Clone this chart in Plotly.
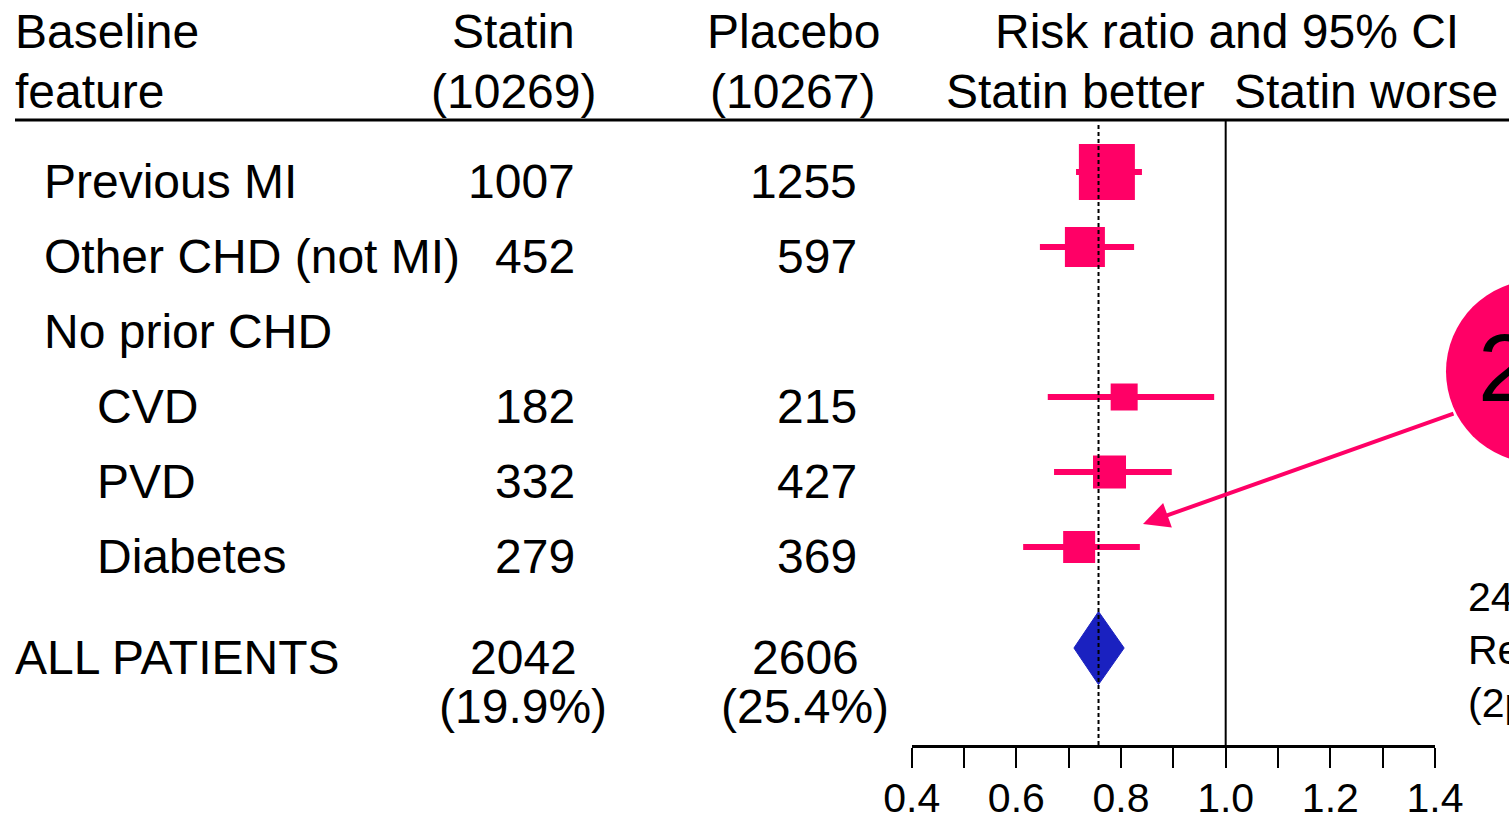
import plotly.graph_objects as go

# ---------------- data ----------------
labels = ["Previous MI", "Other CHD (not MI)", "No prior CHD", "CVD", "PVD", "Diabetes"]
indent = [0, 0, 0, 1, 1, 1]
statin_events = ["1007", "452", "", "182", "332", "279"]
placebo_events = ["1255", "597", "", "215", "427", "369"]
rr = [0.773, 0.731, None, 0.806, 0.778, 0.720]
ci_low = [0.714, 0.645, None, 0.660, 0.672, 0.613]
ci_high = [0.840, 0.825, None, 0.978, 0.897, 0.836]
box_size = [56, 40, 0, 27, 33, 32]

overall_label = "ALL PATIENTS"
overall_statin = ["2042", "(19.9%)"]
overall_placebo = ["2606", "(25.4%)"]
overall_rr = 0.757
overall_low = 0.710
overall_high = 0.806

header_cols = [["Baseline", "feature"], ["Statin", "(10269)"], ["Placebo", "(10267)"],
               ["Risk ratio and 95% CI"], ["Statin better", "Statin worse"]]
tick_vals = [0.4, 0.5, 0.6, 0.7, 0.8, 0.9, 1.0, 1.1, 1.2, 1.3, 1.4]
tick_text = ["0.4", "", "0.6", "", "0.8", "", "1.0", "", "1.2", "", "1.4"]

side_text = ["24% SE 3", "Reduction", "(2p<0.00001)"]
circle_text = "24%"

# ---------------- layout helpers ----------------
W, H = 1509, 816
PINK = "#FF0066"
BLUE = "#1A21C0"
FONT = "Liberation Sans, Arial, sans-serif"
FS = 48
TEXT_SHIFT = -9  # row text sits slightly below the marker row

def px(x):
    return x / W

def py(y):
    return 1 - y / H

rows = list(range(len(labels)))
overall_row = 6.347
overall_row2 = 7.01

fig = go.Figure()

# CI lines
ci_x, ci_y = [], []
for r, lo, hi in zip(rows, ci_low, ci_high):
    if lo is None:
        continue
    ci_x += [lo, hi, None]
    ci_y += [r, r, None]
fig.add_trace(go.Scatter(x=ci_x, y=ci_y, mode="lines",
                         line=dict(color=PINK, width=6), hoverinfo="skip"))

# boxes
bx = [v for v in rr if v is not None]
by = [r for r, v in zip(rows, rr) if v is not None]
bs = [s for s, v in zip(box_size, rr) if v is not None]
fig.add_trace(go.Scatter(x=bx, y=by, mode="markers",
                         marker=dict(symbol="square", size=bs, color=PINK, opacity=1,
                                     line=dict(width=0))))

# diamond
dh = 0.487
fig.add_trace(go.Scatter(x=[overall_low, overall_rr, overall_high, overall_rr, overall_low],
                         y=[overall_row, overall_row - dh, overall_row, overall_row + dh, overall_row],
                         mode="lines", fill="toself", fillcolor=BLUE,
                         line=dict(color=BLUE, width=1)))

shapes = []
# dashed line at overall estimate, solid at 1
shapes.append(dict(type="line", xref="x", yref="y domain", x0=overall_rr, x1=overall_rr,
                   y0=0, y1=1, line=dict(color="black", width=2, dash="4px,3px")))
shapes.append(dict(type="line", xref="x", yref="y domain", x0=1.0, x1=1.0,
                   y0=0, y1=1.003, line=dict(color="black", width=2)))
# header rule
shapes.append(dict(type="line", xref="paper", yref="paper", x0=px(15), x1=1.0,
                   y0=py(120), y1=py(120), line=dict(color="black", width=3)))
# circle
shapes.append(dict(type="circle", xref="paper", yref="paper", x0=px(1446), x1=px(1629),
                   y0=py(463), y1=py(280), fillcolor=PINK, line=dict(width=0), layer="above"))

ann = []
def text(x, y, s, anchor="left", size=FS, yref="paper"):
    ann.append(dict(x=x, y=y, xref="paper", yref=yref, text=s, showarrow=False,
                    xanchor=anchor, yanchor="middle",
                    yshift=TEXT_SHIFT if yref == "y" else 0,
                    font=dict(family=FONT, size=size, color="black")))

# headers
text(px(13), py(32), header_cols[0][0])
text(px(13), py(91), header_cols[0][1])
text(px(513), py(32), header_cols[1][0], "center")
text(px(513), py(91), header_cols[1][1], "center")
text(px(793), py(32), header_cols[2][0], "center")
text(px(792), py(91), header_cols[2][1], "center")
text(px(1227), py(32), header_cols[3][0], "center")
text(px(1075), py(91), header_cols[4][0], "center")
text(px(1366), py(91), header_cols[4][1], "center")

# rows
for r, lab, ind, s, p in zip(rows, labels, indent, statin_events, placebo_events):
    text(px(42 + 53 * ind), r, lab, yref="y")
    if s:
        text(px(577), r, s, "right", yref="y")
    if p:
        text(px(859), r, p, "right", yref="y")

text(px(13), overall_row, overall_label, yref="y")
text(px(523), overall_row, overall_statin[0], "center", yref="y")
text(px(523), overall_row2, overall_statin[1], "center", yref="y")
text(px(805), overall_row, overall_placebo[0], "center", yref="y")
text(px(805), overall_row2, overall_placebo[1], "center", yref="y")

# side text (cut off at right edge)
for i, s in enumerate(side_text):
    text(px(1466), py(597 + 53 * i), s, size=41)

# circle text
ann.append(dict(x=px(1476), y=py(368), xref="paper", yref="paper", text=circle_text,
                showarrow=False, xanchor="left", yanchor="middle",
                font=dict(family=FONT, size=96, color="black")))

# arrow
ann.append(dict(x=0.842, y=4.693, xref="x", yref="y", text="", showarrow=True,
                ax=312, ay=-111, arrowcolor=PINK, arrowwidth=4, arrowhead=2,
                arrowsize=1.3, standoff=0))

fig.update_layout(
    width=W, height=H, autosize=False,
    margin=dict(l=0, r=0, t=0, b=0, autoexpand=False),
    paper_bgcolor="white", plot_bgcolor="white",
    showlegend=False,
    shapes=shapes, annotations=ann,
    font=dict(family=FONT, color="black"),
    xaxis=dict(domain=[px(911.7), px(1435)], range=[0.4, 1.4], tickvals=tick_vals,
               ticktext=tick_text, ticks="outside", ticklen=20, tickwidth=2,
               tickcolor="black", showline=True, linewidth=3, linecolor="black",
               showgrid=False, zeroline=False, tickfont=dict(family=FONT, size=41),
               ticklabelstandoff=-5, fixedrange=True),
    yaxis=dict(domain=[1 - 745 / H, 1 - 122 / H], range=[7.64, -0.6667], visible=False,
               showgrid=False, zeroline=False, fixedrange=True),
)

fig.write_html("out.html", config={"displayModeBar": False},
               post_script="document.body.style.margin='0';document.body.style.overflow='hidden';")
